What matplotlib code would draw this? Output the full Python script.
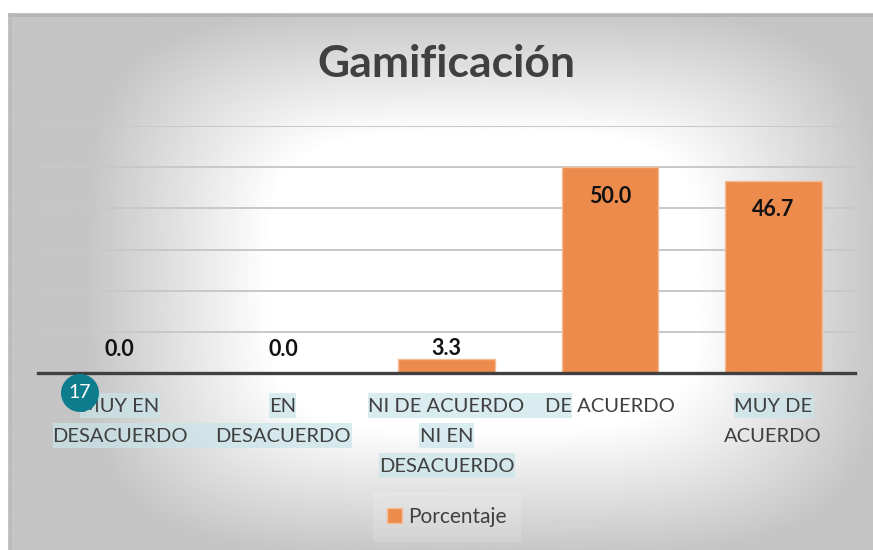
import numpy as np
import matplotlib
matplotlib.use("Agg")
import matplotlib.pyplot as plt
from matplotlib.patches import Rectangle, Ellipse, Patch
from matplotlib.transforms import blended_transform_factory

plt.rcParams['font.family'] = ['Lato', 'DejaVu Sans']

# data
categories = [["MUY EN", "DESACUERDO"],
              ["EN", "DESACUERDO"],
              ["NI DE ACUERDO", "NI EN", "DESACUERDO"],
              ["DE ACUERDO"],
              ["MUY DE", "ACUERDO"]]
porcentaje = [0.0, 0.0, 3.3, 50.0, 46.7]
title = "Gamificación"
series_name = "Porcentaje"
page_number = "17"

W, H = 873, 550
fig = plt.figure(figsize=(W / 100, H / 100), dpi=100)
fig.patch.set_facecolor("white")

def fx(x):
    return x / W

def fy(y):
    return 1 - y / H

# gradient background of the chart area (soft rectangular "from centre" fill)
bg = fig.add_axes([fx(8), 0, 1 - fx(8), fy(13)])
gx, gy = np.meshgrid(np.linspace(0, 1, 400), np.linspace(0, 1, 300))
dx = np.abs(gx - 0.55) / 0.45
dy = np.abs(gy - 0.50) / 0.50
t = (dx ** 4 + dy ** 4) ** 0.25
shade = 1 - 0.48 * np.clip(t - 0.55, 0, 0.48)
bg.imshow(shade, cmap="gray", vmin=0, vmax=1, aspect="auto",
          extent=[0, 1, 1, 0], interpolation="bilinear")
bg.set_xlim(0, 1)
bg.set_ylim(1, 0)
bg.axis("off")
bg.plot([0, 1], [0.003, 0.003], color="#b4b4b4", lw=2)
bg.plot([0.002, 0.002], [0, 1], color="#bcbcbc", lw=2)

ax = fig.add_axes([fx(38), fy(373), fx(855) - fx(38), fy(126) - fy(373)])
ax.set_facecolor("none")
x = np.arange(len(porcentaje))
bars = ax.bar(x, porcentaje, width=0.59, color="#ec8b4c",
              edgecolor="#f3bd98", linewidth=1, zorder=3)
ax.set_xlim(-0.5, 4.5)
ax.set_ylim(0, 60)
ax.set_yticks(np.arange(10, 61, 10))
ax.yaxis.grid(True, color="#c8c8c8", linewidth=1.4, zorder=0)
ax.tick_params(left=False, labelleft=False, bottom=False, labelbottom=False)
for s in ["left", "right", "top"]:
    ax.spines[s].set_visible(False)
ax.spines["bottom"].set_color("#404040")
ax.spines["bottom"].set_linewidth(2.4)
ax.spines["bottom"].set_zorder(4)

# value labels
for xi, v in zip(x, porcentaje):
    if v > 10:
        off = -21
    elif v > 0:
        off = 8
    else:
        off = 17
    ax.annotate(f"{v:.1f}", (xi, v), xytext=(0, off), textcoords="offset points",
                ha="center", va="center", fontsize=15.5, fontweight="bold",
                color="#111111", zorder=5)

# category labels (multi-line) with selection highlight
tr = blended_transform_factory(ax.transData, fig.transFigure)
hl = "#c9e4ea"
spans = [(0, -0.245, 0.245), (1, -0.41, 1.42), (0, 0.915, 1.08),
         (0, 1.52, 2.77), (1, 1.83, 2.17), (2, 1.585, 2.42), (0, 3.76, 4.25)]
for row, x0, x1 in spans:
    top = 393 + 30 * row
    fig.patches.append(Rectangle((x0, fy(top + 25)), x1 - x0, 25 / H,
                                 transform=tr, facecolor=hl, alpha=0.7,
                                 edgecolor="none", zorder=1))
for xi, lines in zip(x, categories):
    for k, line in enumerate(lines):
        fig.text(xi, fy(406 + 30 * k), line, transform=tr, ha="center",
                 va="center", fontsize=14.5, color="#404040", zorder=3)

# title
fig.text(fx(446), fy(64), title, ha="center", va="center", fontsize=32,
         fontweight="bold", color="#404040")

# legend
leg = ax.legend(handles=[Patch(facecolor="#ec8b4c", edgecolor="#f3bd98",
                               label=series_name)],
                loc="center", bbox_to_anchor=(fx(447), fy(517)),
                bbox_transform=fig.transFigure, frameon=True, fontsize=15,
                handlelength=0.7, handleheight=0.7, handletextpad=0.3,
                borderpad=0.7, labelcolor="#404040", fancybox=False)
leg.get_frame().set_facecolor("white")
leg.get_frame().set_alpha(0.15)
leg.get_frame().set_edgecolor("none")

# page number badge
fig.patches.append(Ellipse((fx(80), fy(393)), 38 / W, 38 / H,
                           transform=fig.transFigure, facecolor="#0d7d8e",
                           edgecolor="none", zorder=6))
fig.text(fx(80), fy(392), page_number, ha="center", va="center", fontsize=14,
         color="white", zorder=7)

fig.savefig("out.png", dpi=100)
